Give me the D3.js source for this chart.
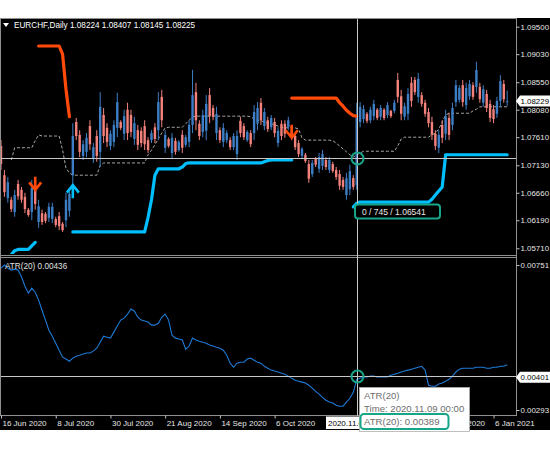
<!DOCTYPE html>
<html>
<head>
<meta charset="utf-8">
<script src="https://cdn.jsdelivr.net/npm/d3@7"></script>
<style>
html,body{margin:0;padding:0;background:#ffffff;}
svg{display:block;}
</style>
</head>
<body>
<svg id="chart" width="550" height="450"></svg>
<script>
// ---------- DATA ----------
const symbolName = "EURCHF,Daily";
const open = [
1.0746,1.0696,1.0657,1.0654,1.0633,1.0681,1.0671,1.0659,1.0637,1.0633,
1.0678,1.0616,1.0631,1.0630,1.0623,1.0621,1.0621,1.0626,1.0613,1.0619,
1.0635,1.0696,1.0787,1.0765,1.0729,1.0736,1.0780,1.0724,1.0763,1.0736,
1.0799,1.0777,1.0746,1.0753,1.0777,1.0787,1.0767,1.0808,1.0799,1.0758,
1.0773,1.0772,1.0780,1.0756,1.0756,1.0778,1.0773,1.0830,1.0743,1.0758,
1.0734,1.0755,1.0739,1.0765,1.0748,1.0753,1.0782,1.0838,1.0784,1.0770,
1.0772,1.0833,1.0811,1.0768,1.0773,1.0753,1.0756,1.0756,1.0744,1.0732,
1.0789,1.0780,1.0756,1.0768,1.0768,1.0784,1.0820,1.0780,1.0790,1.0778,
1.0787,1.0751,1.0784,1.0784,1.0778,1.0773,1.0763,1.0751,1.0729,1.0731,
1.0715,1.0698,1.0724,1.0707,1.0712,1.0722,1.0705,1.0715,1.0705,1.0698,
1.0688,1.0662,1.0672,1.0691,1.0679,1.0787,1.0792,1.0801,1.0790,1.0797,
1.0808,1.0796,1.0808,1.0799,1.0806,1.0806,1.0859,1.0831,1.0796,1.0801,
1.0854,1.0859,1.0830,1.0833,1.0820,1.0804,1.0787,1.0767,1.0743,1.0782,
1.0767,1.0794,1.0782,1.0821,1.0825,1.0850,1.0816,1.0831,1.0850,1.0847,
1.0847,1.0820,1.0835,1.0818,1.0809,1.0801,1.0823,1.0852,1.08224];
const high = [
1.0756,1.0705,1.0693,1.0659,1.0671,1.0688,1.0676,1.0666,1.0640,1.0688,
1.0688,1.0654,1.0637,1.0633,1.0649,1.0649,1.0625,1.0633,1.0616,1.0666,
1.0674,1.0785,1.0794,1.0773,1.0756,1.0768,1.0790,1.0751,1.0773,1.0838,
1.0811,1.0785,1.0773,1.0790,1.0837,1.0790,1.0808,1.0820,1.0808,1.0796,
1.0782,1.0778,1.0790,1.0761,1.0773,1.0785,1.0838,1.0842,1.0773,1.0761,
1.0768,1.0760,1.0756,1.0773,1.0765,1.0790,1.0876,1.0854,1.0790,1.0808,
1.0833,1.0845,1.0816,1.0813,1.0778,1.0785,1.0773,1.0761,1.0768,1.0773,
1.0796,1.0785,1.0773,1.0773,1.0816,1.0821,1.0828,1.0811,1.0796,1.0799,
1.0794,1.0778,1.0790,1.0790,1.0796,1.0778,1.0768,1.0756,1.0744,1.0734,
1.0722,1.0722,1.0727,1.0734,1.0739,1.0727,1.0727,1.0719,1.0710,1.0705,
1.0693,1.0700,1.0714,1.0696,1.0820,1.0821,1.0816,1.0804,1.0813,1.0825,
1.0811,1.0816,1.0811,1.0821,1.0808,1.0825,1.0871,1.0842,1.0820,1.0845,
1.0864,1.0864,1.0871,1.0838,1.0825,1.0811,1.0796,1.0773,1.0773,1.0790,
1.0808,1.0803,1.0820,1.0859,1.0850,1.0859,1.0854,1.0859,1.0855,1.0890,
1.0854,1.0850,1.0842,1.0825,1.0816,1.0830,1.0867,1.0859,1.08407];
const low = [
1.0705,1.0659,1.0649,1.0633,1.0625,1.0654,1.0649,1.0631,1.0625,1.0619,
1.0637,1.0606,1.0611,1.0614,1.0616,1.0614,1.0607,1.0602,1.0599,1.0607,
1.0625,1.0676,1.0756,1.0727,1.0722,1.0727,1.0739,1.0717,1.0719,1.0710,
1.0751,1.0744,1.0739,1.0744,1.0761,1.0773,1.0756,1.0756,1.0761,1.0748,
1.0739,1.0744,1.0739,1.0734,1.0751,1.0751,1.0756,1.0778,1.0734,1.0743,
1.0725,1.0731,1.0736,1.0734,1.0744,1.0744,1.0768,1.0773,1.0756,1.0761,
1.0756,1.0785,1.0790,1.0756,1.0751,1.0744,1.0751,1.0739,1.0739,1.0722,
1.0761,1.0756,1.0753,1.0744,1.0756,1.0773,1.0782,1.0773,1.0770,1.0773,
1.0761,1.0744,1.0756,1.0760,1.0773,1.0756,1.0739,1.0727,1.0725,1.0717,
1.0683,1.0693,1.0710,1.0700,1.0705,1.0705,1.0700,1.0700,1.0688,1.0671,
1.0671,1.0654,1.0662,1.0671,1.0671,1.0778,1.0785,1.0785,1.0785,1.0790,
1.0790,1.0790,1.0790,1.0794,1.0794,1.0802,1.0820,1.0790,1.0790,1.0790,
1.0813,1.0833,1.0820,1.0813,1.0796,1.0778,1.0756,1.0739,1.0734,1.0751,
1.0756,1.0756,1.0773,1.0813,1.0820,1.0813,1.0808,1.0825,1.0825,1.0837,
1.0820,1.0813,1.0804,1.0787,1.0785,1.0794,1.0813,1.0820,1.08145];
const close = [
1.0715,1.0667,1.0684,1.0638,1.0662,1.0660,1.0654,1.0638,1.0628,1.0674,
1.0647,1.0643,1.0616,1.0618,1.0642,1.0642,1.0611,1.0609,1.0602,1.0654,
1.0664,1.0763,1.0763,1.0736,1.0749,1.0760,1.0749,1.0744,1.0729,1.0813,
1.0763,1.0753,1.0767,1.0782,1.0821,1.0777,1.0797,1.0768,1.0770,1.0785,
1.0748,1.0751,1.0749,1.0739,1.0768,1.0758,1.0821,1.0790,1.0765,1.0746,
1.0760,1.0736,1.0753,1.0743,1.0761,1.0782,1.0833,1.0790,1.0763,1.0799,
1.0818,1.0797,1.0796,1.0801,1.0756,1.0777,1.0768,1.0744,1.0763,1.0763,
1.0768,1.0761,1.0770,1.0749,1.0804,1.0811,1.0790,1.0804,1.0775,1.0794,
1.0768,1.0772,1.0763,1.0767,1.0790,1.0761,1.0744,1.0732,1.0741,1.0720,
1.0690,1.0717,1.0714,1.0727,1.0732,1.0710,1.0722,1.0703,1.0693,1.0678,
1.0676,1.0691,1.0703,1.0676,1.0799,1.0813,1.0809,1.0789,1.0808,1.0818,
1.0794,1.0811,1.0794,1.0816,1.0797,1.0820,1.0830,1.0801,1.0814,1.0835,
1.0823,1.0838,1.0861,1.0818,1.0801,1.0785,1.0765,1.0746,1.0765,1.0760,
1.0797,1.0765,1.0811,1.0850,1.0845,1.0821,1.0845,1.0852,1.0830,1.0876,
1.0826,1.0843,1.0811,1.0794,1.0792,1.0823,1.0857,1.0826,1.08225];

// dotted middle line, starts at bar 3
const midStart = 3;
const midLine = [
1.0722,1.0743,1.0743,1.0743,1.0743,1.0743,1.0743,
1.0755,1.0765,1.0763,1.0763,1.0763,1.0763,1.0763,1.0763,1.0739,1.0708,
1.0700,1.0696,1.0696,1.0696,1.0696,1.0696,1.0696,1.0696,1.0696,1.0713,
1.0717,1.0717,1.0717,1.0717,1.0717,1.0717,1.0717,1.0717,1.0717,1.0717,
1.0717,1.0717,1.0717,1.0731,1.0739,1.0748,1.0758,1.0768,1.0777,1.0778,
1.0778,1.0778,1.0778,1.0778,1.0784,1.0790,1.0796,1.0797,1.0797,1.0797,
1.0797,1.0797,1.0797,1.0797,1.0797,1.0797,1.0797,1.0797,1.0797,1.0797,
1.0797,1.0797,1.0797,1.0796,1.0792,1.0790,1.0789,1.0787,1.0785,1.0784,
1.0782,1.0780,1.0778,1.0777,1.0777,1.0777,1.0777,1.0775,1.0760,1.0756,
1.0756,1.0756,1.0756,1.0756,1.0756,1.0756,1.0756,1.0755,1.0751,1.0746,
1.0741,1.0736,1.0731,1.0727,1.0731,1.0734,1.0737,1.0737,1.0737,1.0737,
1.0737,1.0737,1.0737,1.0737,1.0737,1.0737,1.0746,1.0758,1.0761,1.0761,
1.0761,1.0761,1.0761,1.0761,1.0761,1.0761,1.0765,1.0768,1.0775,1.0787,
1.0799,1.0802,1.0802,1.0802,1.0802,1.0802,1.0802,1.0802,1.0806,1.0809,
1.0813,1.0813,1.0813,1.0813,1.0813,1.0813,1.0813,1.0813,1.0813];

// cyan support stop segments
const sup1Start = 3;
const sup1 = [1.0560,1.0567,1.0569,1.0569,1.0569,1.0569,1.0575,1.0581];
const sup2Start = 21;
const sup2 = [
1.0599,1.0599,1.0599,1.0599,1.0599,1.0599,1.0599,1.0599,1.0599,
1.0599,1.0599,1.0599,1.0599,1.0599,1.0599,1.0599,1.0599,1.0599,1.0599,1.0599,1.0599,1.0599,
1.0624,1.0654,1.0696,1.0707,1.0707,1.0707,1.0707,1.0707,1.0707,1.0707,
1.0710,1.0716,1.0717,1.0717,1.0717,1.0717,1.0717,1.0717,1.0717,1.0717,
1.0717,1.0717,1.0717,1.0717,1.0717,1.0717,1.0717,1.0717,1.0717,1.0717,
1.0717,1.0717,1.0717,1.0717,1.0719,1.0721,1.0722,1.0722,1.0722,1.0722,
1.0722,1.0722,1.0722];
const sup3Start = 103;
const sup3 = [
1.0642,1.0648,1.0650,1.0650,1.0650,1.0650,1.0650,1.0650,1.0650,
1.0650,1.0650,1.0650,1.0650,1.0650,1.0650,1.0650,1.0650,1.0650,1.0650,1.0650,1.0650,1.0650,1.0650,
1.0655,1.0662,1.0669,1.0676,1.0731,1.0731,1.0731,1.0731,1.0731,1.0731,
1.0731,1.0731,1.0731,1.0731,1.0731,1.0731,1.0731,1.0731,1.0731,1.0731,1.0731,1.0731,1.0731];

// orange resistance stop segments
const res1Start = 11;
const res1 = [1.0917,1.0917,1.0917,1.0917,1.0917,1.0917,1.0917,1.0903,1.0843,1.0796];
const res2Start = 85;
const res2 = [1.0828,1.0828,1.0828,1.0828,1.0828,1.0828,1.0828,1.0828,1.0828,1.0828,
1.0828,1.0828,1.0828,1.0828,1.0820,1.0814,1.0807,1.0802,1.0798,1.0797];

// signal arrows (bar index, tip price)
const downArrowIdx = [10, 85];
const downArrowPrice = [1.0671, 1.0760];
const upArrowIdx = [21];
const upArrowPrice = [1.0679];

// ATR(20)
const atr = [
0.00741,0.00751,0.00741,0.00735,0.00738,0.00735,0.00713,0.00684,0.00662,0.00678,
0.00665,0.00640,0.00608,0.00577,0.00545,0.00526,0.00504,0.00482,0.00460,0.00454,
0.00447,0.00457,0.00463,0.00466,0.00470,0.00473,0.00473,0.00479,0.00488,0.00507,
0.00526,0.00523,0.00520,0.00539,0.00558,0.00577,0.00583,0.00596,0.00612,0.00605,
0.00586,0.00577,0.00574,0.00571,0.00561,0.00561,0.00567,0.00586,0.00596,0.00577,
0.00529,0.00520,0.00517,0.00514,0.00485,0.00495,0.00520,0.00514,0.00510,0.00507,
0.00504,0.00498,0.00495,0.00491,0.00488,0.00482,0.00466,0.00441,0.00428,0.00441,
0.00444,0.00444,0.00454,0.00457,0.00450,0.00444,0.00441,0.00431,0.00425,0.00419,
0.00416,0.00413,0.00409,0.00406,0.00400,0.00393,0.00387,0.00384,0.00381,0.00378,
0.00371,0.00362,0.00352,0.00343,0.00333,0.00324,0.00318,0.00315,0.00308,0.00305,
0.00305,0.00318,0.00330,0.00349,0.00389,0.00393,0.00397,0.00397,0.00400,0.00400,
0.00397,0.00397,0.00397,0.00397,0.00403,0.00406,0.00409,0.00413,0.00416,0.00419,
0.00422,0.00425,0.00428,0.00431,0.00419,0.00371,0.00368,0.00368,0.00375,0.00378,
0.00384,0.00390,0.00400,0.00413,0.00422,0.00425,0.00425,0.00425,0.00425,0.00428,
0.00428,0.00428,0.00425,0.00425,0.00428,0.00428,0.00431,0.00431,0.00436];

// axes (labels hidden under the crosshair date box / tooltip are omitted)
const priceTicks = [1.09500,1.09030,1.08550,1.08080,1.07610,1.07130,1.06660,1.06190,1.05710];
const atrTicks = [0.00751,0.00293];
const dateTickIdx = [0,16,32,48,64,80,128,144];
const dateTickLabels = ["16 Jun 2020","8 Jul 2020","30 Jul 2020","21 Aug 2020","14 Sep 2020","6 Oct 2020","11 Dec 2020","6 Jan 2021"];

// crosshair / labels
const currentPrice = 1.08229;
const crossIdx = 104;
const crossPrice = 1.0725;
const crossAtr = 0.00401;
const crossDate = "2020.11.09 00:00";
const crossInfo = "0 / 745 / 1.06541";

// ---------- DRAW ----------
const FONT = '"Liberation Sans", Arial, sans-serif';
const UP = "#3d7fc6", DOWN = "#f4827c";
const CYAN = "#00bfff", ORANGE = "#ff4a0a", TEAL = "#17a589", CROSS = "#c8c8c8", GRID = "#909090";

const svg = d3.select("#chart");
svg.append("rect").attr("width",550).attr("height",450).attr("fill","#ffffff");
svg.append("rect").attr("x",0).attr("y",18).attr("width",550).attr("height",412).attr("fill","#000000");

const nBars = close.length;
const x = d3.scaleLinear().domain([0,148]).range([1,507.2]);
const y = d3.scaleLinear().domain([1.0571,1.0950]).range([248.3,26.7]);
const ya = d3.scaleLinear().domain([0.00293,0.00751]).range([410,265]);

const defs = svg.append("defs");
defs.append("clipPath").attr("id","clipMain").append("rect").attr("x",1).attr("y",19).attr("width",515).attr("height",235);
defs.append("clipPath").attr("id","clipAtr").append("rect").attr("x",1).attr("y",258).attr("width",515).attr("height",157);
const cDate = defs.append("clipPath").attr("id","clipDates");
cDate.append("rect").attr("x",-5).attr("y",0).attr("width",331).attr("height",40);
cDate.append("rect").attr("x",470).attr("y",0).attr("width",100).attr("height",40);
defs.append("clipPath").attr("id","clipDateBox").append("rect").attr("x",326).attr("y",410).attr("width",33).attr("height",25);

// panel borders
const frame = svg.append("g").attr("stroke",GRID).attr("stroke-width",1).attr("fill","none");
frame.append("line").attr("x1",0).attr("x2",516).attr("y1",18.5).attr("y2",18.5);
frame.append("line").attr("x1",0.5).attr("x2",0.5).attr("y1",18).attr("y2",416);
frame.append("line").attr("x1",516.5).attr("x2",516.5).attr("y1",18).attr("y2",416);
frame.append("line").attr("x1",0).attr("x2",517).attr("y1",255.5).attr("y2",255.5);
frame.append("line").attr("x1",0).attr("x2",517).attr("y1",257.5).attr("y2",257.5);
frame.append("line").attr("x1",0).attr("x2",517).attr("y1",415.5).attr("y2",415.5);

const main = svg.append("g").attr("clip-path","url(#clipMain)");
const lineP = d3.line().x(d=>x(d[0])).y(d=>y(d[1]));

// dotted middle line
main.append("path").datum(midLine.map((v,k)=>[midStart+k,v])).attr("d",lineP)
  .attr("fill","none").attr("stroke","#a8a8a8").attr("stroke-width",1).attr("stroke-dasharray","3,2");

// candles
const idx = d3.range(nBars);
const cg = main.append("g");
cg.selectAll("line.wick").data(idx).join("line").attr("class","wick")
  .attr("x1",i=>x(i)).attr("x2",i=>x(i))
  .attr("y1",i=>y(high[i])).attr("y2",i=>y(low[i]))
  .attr("stroke",i=>close[i]>=open[i]?UP:DOWN).attr("stroke-width",1);
cg.selectAll("rect.body").data(idx).join("rect").attr("class","body")
  .attr("x",i=>x(i)-1.2).attr("width",2.4)
  .attr("y",i=>y(Math.max(open[i],close[i])))
  .attr("height",i=>Math.max(1,Math.abs(y(open[i])-y(close[i]))))
  .attr("fill",i=>close[i]>=open[i]?UP:DOWN);

// stop lines
function seg(start, arr, color){
  main.append("path").datum(arr.map((v,k)=>[start+k,v])).attr("d",lineP)
    .attr("fill","none").attr("stroke",color).attr("stroke-width",3.2)
    .attr("stroke-linejoin","round").attr("stroke-linecap","round");
}
seg(sup1Start,sup1,CYAN); seg(sup2Start,sup2,CYAN); seg(sup3Start,sup3,CYAN);
seg(res1Start,res1,ORANGE); seg(res2Start,res2,ORANGE);

// arrows
function arrow(i, p, dir, color){
  const tx = x(i), ty = y(p), s = dir; // s=1 down, -1 up
  const d = `M${tx},${ty - s*13}L${tx},${ty - s*1.5}M${tx-6},${ty - s*7.5}L${tx},${ty}L${tx+6},${ty - s*7.5}`;
  main.append("path").attr("d",d).attr("fill","none").attr("stroke",color).attr("stroke-width",2.6);
}
downArrowIdx.forEach((i,k)=>arrow(i,downArrowPrice[k],1,ORANGE));
upArrowIdx.forEach((i,k)=>arrow(i,upArrowPrice[k],-1,CYAN));

// ATR panel
const atrG = svg.append("g").attr("clip-path","url(#clipAtr)");
atrG.append("path").datum(atr.map((v,i)=>[i,v]))
  .attr("d",d3.line().x(d=>x(d[0])).y(d=>ya(d[1])))
  .attr("fill","none").attr("stroke","#1e7ad6").attr("stroke-width",1.1);

// crosshair
const cx = Math.round(x(crossIdx))+0.5;
const cyMain = Math.round(y(crossPrice))+0.5;
const cyAtr = Math.round(ya(crossAtr))+0.5;
const ch = svg.append("g").attr("stroke",CROSS).attr("stroke-width",1);
ch.append("line").attr("x1",cx).attr("x2",cx).attr("y1",19).attr("y2",416);
ch.append("line").attr("x1",1).attr("x2",516).attr("y1",cyMain).attr("y2",cyMain);
ch.append("line").attr("x1",1).attr("x2",516).attr("y1",cyAtr).attr("y2",cyAtr);
[cyMain, cyAtr].forEach(cy=>{
  svg.append("circle").attr("cx",cx).attr("cy",cy).attr("r",6).attr("fill","none").attr("stroke",TEAL).attr("stroke-width",2);
});

// info box
svg.append("rect").attr("x",355).attr("y",204.5).attr("width",85).attr("height",14).attr("rx",3)
  .attr("fill","#000").attr("stroke",TEAL).attr("stroke-width",2);
svg.append("text").attr("x",362).attr("y",215).text(crossInfo)
  .attr("fill","#e8e8e8").attr("font-family",FONT).attr("font-size",8.5);

// title
svg.append("path").attr("d","M3,23L9,23L6,27Z").attr("fill","#ffffff");
const f5 = d3.format(".5f");
svg.append("text").attr("x",14).attr("y",28)
  .text(`${symbolName} ${f5(open[nBars-1])} ${f5(high[nBars-1])} ${f5(low[nBars-1])} ${f5(close[nBars-1])}`)
  .attr("fill","#ffffff").attr("font-family",FONT).attr("font-size",8.2);
svg.append("text").attr("x",5).attr("y",268.5).text(`ATR(20) ${f5(atr[nBars-1])}`)
  .attr("fill","#e0e0e0").attr("font-family",FONT).attr("font-size",8.2);

// price axis
function styleAxis(g){
  g.select(".domain").remove();
  g.selectAll(".tick line").attr("stroke","#c0c0c0");
  g.selectAll(".tick text").attr("fill","#e6e6e6");
  g.attr("font-family",FONT).attr("font-size",7.9);
}
svg.append("g").attr("transform","translate(516.5,0)")
  .call(d3.axisRight(y).tickValues(priceTicks).tickFormat(f5).tickSize(3).tickPadding(1))
  .call(styleAxis);
svg.append("g").attr("transform","translate(516.5,0)")
  .call(d3.axisRight(ya).tickValues(atrTicks).tickFormat(f5).tickSize(3).tickPadding(1))
  .call(styleAxis);

// date axis
const dAx = svg.append("g").attr("transform","translate(0,415.5)")
  .call(d3.axisBottom(x).tickValues(dateTickIdx).tickFormat((d,k)=>dateTickLabels[k]).tickSize(3).tickPadding(2))
  .call(styleAxis);
dAx.selectAll(".tick text").attr("text-anchor","start").attr("dx",1).attr("font-size",8)
  .attr("clip-path","url(#clipDates)");

// current price label
function axisBox(yy, label){
  svg.append("path").attr("d",`M516,${yy}L520,${yy-5.5}L550,${yy-5.5}L550,${yy+5.5}L520,${yy+5.5}Z`).attr("fill","#ffffff");
  svg.append("text").attr("x",520.5).attr("y",yy+3).text(label)
    .attr("fill","#000").attr("font-family",FONT).attr("font-size",7.9);
}
axisBox(y(currentPrice), f5(currentPrice));
axisBox(ya(crossAtr)+1.5, f5(crossAtr));

// date crosshair label (partly hidden by the tooltip)
svg.append("rect").attr("x",326).attr("y",416.5).attr("width",34).attr("height",12.5).attr("fill","#ffffff");
svg.append("text").attr("x",328).attr("y",426).text(crossDate)
  .attr("fill","#000").attr("font-family",FONT).attr("font-size",8)
  .attr("clip-path","url(#clipDateBox)");

// tooltip
svg.append("rect").attr("x",359.5).attr("y",387.5).attr("width",110).attr("height",44).attr("fill","#ffffff").attr("stroke","#b0b0b0").attr("stroke-width",0.8);
const tipLines = ["ATR(20)", `Time: ${crossDate}`, `ATR(20): ${f5(atr[crossIdx])}`];
tipLines.forEach((t,k)=>{
  svg.append("text").attr("x",364).attr("y",399+k*13).text(t)
    .attr("fill","#6e6e6e").attr("font-family",FONT).attr("font-size",9.6);
});
svg.append("rect").attr("x",360.5).attr("y",414).attr("width",88).attr("height",15).attr("rx",3.5)
  .attr("fill","none").attr("stroke",TEAL).attr("stroke-width",2);
</script>
</body>
</html>
